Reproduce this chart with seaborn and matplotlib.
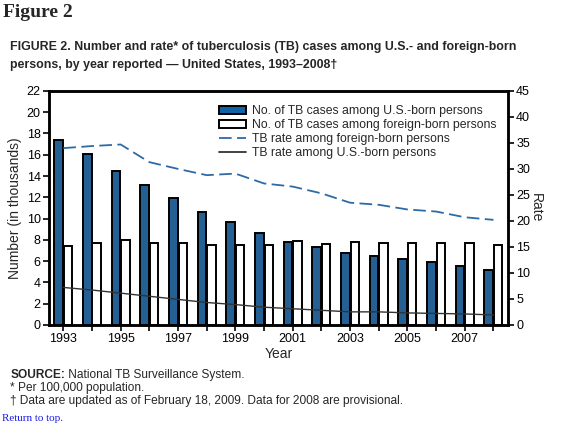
import numpy as np
import pandas as pd
import matplotlib
matplotlib.use('Agg')
import matplotlib.pyplot as plt
import seaborn as sns
from matplotlib.patches import Patch
from matplotlib.lines import Line2D

# ---------------- data ----------------
years = list(range(1993, 2009))
us_cases = [17.4, 16.1, 14.5, 13.2, 11.9, 10.6, 9.7, 8.6, 7.8, 7.3, 6.8, 6.5, 6.2, 5.9, 5.5, 5.2]
fb_cases = [7.4, 7.7, 8.0, 7.7, 7.7, 7.5, 7.5, 7.5, 7.9, 7.6, 7.8, 7.7, 7.7, 7.7, 7.7, 7.5]
fb_rate = [34.0, 34.4, 34.7, 31.3, 30.0, 28.8, 29.1, 27.2, 26.6, 25.3, 23.5, 23.1, 22.2, 21.8, 20.7, 20.2]
us_rate = [7.2, 6.7, 6.1, 5.5, 4.9, 4.3, 3.9, 3.4, 3.1, 2.8, 2.5, 2.5, 2.3, 2.2, 2.1, 1.9]

lab_us = 'No. of TB cases among U.S.-born persons'
lab_fb = 'No. of TB cases among foreign-born persons'
lab_rfb = 'TB rate among foreign-born persons'
lab_rus = 'TB rate among U.S.-born persons'

blue = '#1262a6'
dash_blue = '#2e6aa6'

sns.set_style('white')
plt.rcParams['font.family'] = ['Liberation Sans', 'DejaVu Sans']

bars = pd.DataFrame({
    'Year': [str(y) for y in years] * 2,
    'Cases': us_cases + fb_cases,
    'Group': [lab_us] * len(years) + [lab_fb] * len(years),
})
rates = pd.DataFrame({'idx': np.arange(len(years)), 'fb': fb_rate, 'us': us_rate})

fig = plt.figure(figsize=(5.63, 4.23), dpi=100)
ax = fig.add_axes([0.087, 0.232, 0.815, 0.553])

sns.barplot(data=bars, x='Year', y='Cases', hue='Group', palette=[blue, 'white'],
            edgecolor='black', linewidth=1.4, width=0.66, gap=0.1, ax=ax, legend=False)

ax2 = ax.twinx()
sns.lineplot(data=rates, x='idx', y='fb', ax=ax2, color=dash_blue, lw=1.3,
             dashes=False, linestyle=(0, (7, 3)))
sns.lineplot(data=rates, x='idx', y='us', ax=ax2, color='#333333', lw=1.0)

ax.set_xlim(-0.5, len(years) - 0.5)
ax.set_ylim(0, 22)
ax.set_yticks(range(0, 23, 2))
ax2.set_ylim(0, 45)
ax2.set_yticks(range(0, 46, 5))
ax.set_xticks(range(len(years)))
ax.set_xticklabels([str(y) if i % 2 == 0 else '' for i, y in enumerate(years)])

for a in (ax, ax2):
    for s in a.spines.values():
        s.set_color('black')
        s.set_linewidth(1.8)
    a.tick_params(colors='black', labelsize=9, width=1.2, length=4, direction='out', pad=2)
ax.tick_params(axis='y', left=True)
ax2.tick_params(axis='y', right=True)
ax.tick_params(axis='x', bottom=True)

ax.set_xlabel('Year', fontsize=10, labelpad=1)
ax.set_ylabel('Number (in thousands)', fontsize=10, labelpad=3)
ax2.set_ylabel('Rate', fontsize=10, rotation=270, labelpad=9)

handles = [
    Patch(facecolor=blue, edgecolor='black', linewidth=1.4),
    Patch(facecolor='white', edgecolor='black', linewidth=1.4),
    Line2D([], [], color=dash_blue, lw=1.3, linestyle=(0, (7, 3))),
    Line2D([], [], color='#333333', lw=1.3),
]
ax2.legend(handles, [lab_us, lab_fb, lab_rfb, lab_rus], loc='upper right',
           bbox_to_anchor=(1.0, 0.985), frameon=False, fontsize=8.8,
           handlelength=2.2, handleheight=0.7, labelspacing=0.15, handletextpad=0.5)

# ---------------- surrounding texts ----------------
fig.text(0.005, 0.99, 'Figure 2', family='Liberation Serif', weight='bold',
         fontsize=14, va='top')
fig.text(0.018, 0.889, 'FIGURE 2. Number and rate* of tuberculosis (TB) cases among U.S.- and foreign-born',
         weight='bold', fontsize=8.9, va='center')
fig.text(0.018, 0.846, 'persons, by year reported \u2014 United States, 1993\u20132008\u2020',
         weight='bold', fontsize=8.9, va='center')

t1 = fig.text(0.018, 0.113, 'SOURCE:', weight='bold', fontsize=8.6, va='center')
ax.annotate(' National TB Surveillance System.', xy=(1, 0.5), xycoords=t1,
            va='center', fontsize=8.6, annotation_clip=False)
fig.text(0.018, 0.082, '* Per 100,000 population.', fontsize=8.6, va='center')
fig.text(0.018, 0.051, '\u2020 Data are updated as of February 18, 2009. Data for 2008 are provisional.',
         fontsize=8.6, va='center')
fig.text(0.003, 0.001, 'Return to top.', family='Liberation Serif', color='#1a1aee',
         fontsize=8, va='bottom')

fig.savefig('out.png', dpi=100)
